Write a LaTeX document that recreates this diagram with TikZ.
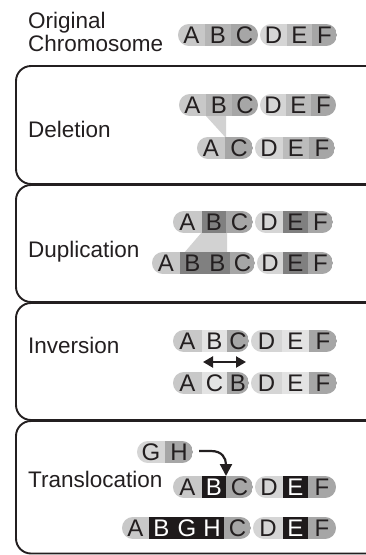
\documentclass[tikz,border=0pt]{standalone}
\usepackage{fontspec}
\setmainfont{Liberation Sans}
\usetikzlibrary{arrows.meta}
\definecolor{ink}{HTML}{231F20}
\definecolor{gA}{HTML}{C8C8C8}
\definecolor{gB}{HTML}{B5B5B5}
\definecolor{gC}{HTML}{A6A6A6}
\definecolor{gD}{HTML}{D5D5D5}
\definecolor{gE}{HTML}{BCBCBC}
\definecolor{gF}{HTML}{A6A6A6}
\definecolor{gDark}{HTML}{808080}
\definecolor{gLight}{HTML}{E3E3E3}
\definecolor{gBlack}{HTML}{1E1A1B}
\definecolor{gWedge}{HTML}{D2D2D2}
\newcommand\segm[7]{%
  \fill[#5] (#2,{#4-11}) rectangle (#3,{#4+11});
  \node[lett,text=#6] (#1) at ({(#2+#3)/2},{#4+8.5}) {#7};}
\newcommand\pillclip[3]{\clip[rounded corners=10.9pt] (#1,{#3-11}) rectangle (#2,{#3+11});}
\tikzset{
  lett/.style={inner sep=0pt, anchor=base, font=\fontsize{24}{26}\selectfont},
  lbl/.style={inner sep=0pt, anchor=base west, text=ink, font=\fontsize{22.5}{23}\selectfont},
  frame/.style={draw=ink, line width=1.9pt, rounded corners=15pt},
}
\begin{document}
\begin{tikzpicture}[x=1pt,y=-1pt]
\useasboundingbox (0,0) rectangle (366,555);
% frames
\draw[frame] (366,66) -- (16,66) -- (16,184) -- (366,184);
\draw[frame] (366,185) -- (16,185) -- (16,302) -- (366,302);
\draw[frame] (366,303) -- (16,303) -- (16,420) -- (366,420);
\draw[frame] (366,421) -- (16,421) -- (16,553.5) -- (366,553.5);
% labels
\node[inner sep=0pt, anchor=north west, align=left, text=ink, font=\fontsize{22.5}{22.5}\selectfont] (lorig) at (28,12) {Original\\Chromosome};
\node[lbl] (ldel) at (28,137) {Deletion};
\node[lbl] (ldup) at (28,257) {Duplication};
\node[lbl] (linv) at (28,353) {Inversion};
\node[lbl] (ltra) at (28,487) {Translocation};
% ---------- Original ----------
\begin{scope}\pillclip{178}{258}{35}
\segm{oA}{178}{205}{35}{gA}{ink}{A}
\segm{oB}{205}{231}{35}{gB}{ink}{B}
\segm{oC}{231}{258}{35}{gC}{ink}{C}
\end{scope}
\begin{scope}\pillclip{260}{337}{35}
\segm{oD}{260}{287}{35}{gD}{ink}{D}
\segm{oE}{287}{312}{35}{gE}{ink}{E}
\segm{oF}{312}{337}{35}{gF}{ink}{F}
\end{scope}
% ---------- Deletion ----------
\fill[gWedge] (206,116) -- (226,116) -- (226,138) -- cycle;
\begin{scope}\pillclip{179}{258}{105}
\segm{dA}{179}{206}{105}{gA}{ink}{A}
\segm{dB}{206}{232}{105}{gB}{ink}{B}
\segm{dC}{232}{258}{105}{gC}{ink}{C}
\end{scope}
\begin{scope}\pillclip{260}{336}{105}
\segm{dD}{260}{286}{105}{gD}{ink}{D}
\segm{dE}{286}{311}{105}{gE}{ink}{E}
\segm{dF}{311}{336}{105}{gF}{ink}{F}
\end{scope}
\begin{scope}\pillclip{197}{253}{148}
\segm{d2A}{197}{225}{148}{gA}{ink}{A}
\segm{d2C}{225}{253}{148}{gC}{ink}{C}
\end{scope}
\begin{scope}\pillclip{255}{335}{148}
\segm{d2D}{255}{283}{148}{gD}{ink}{D}
\segm{d2E}{283}{309}{148}{gE}{ink}{E}
\segm{d2F}{309}{335}{148}{gF}{ink}{F}
\end{scope}
% ---------- Duplication ----------
\fill[gWedge] (202,232) -- (227,232) -- (227,253) -- (184,253) -- cycle;
\begin{scope}\pillclip{173}{253}{222}
\segm{uA}{173}{202}{222}{gA}{ink}{A}
\segm{uB}{202}{226}{222}{gDark}{ink}{B}
\segm{uC}{226}{253}{222}{gC}{ink}{C}
\end{scope}
\begin{scope}\pillclip{255}{333}{222}
\segm{uD}{255}{283}{222}{gD}{ink}{D}
\segm{uE}{283}{308}{222}{gDark}{ink}{E}
\segm{uF}{308}{333}{222}{gF}{ink}{F}
\end{scope}
\begin{scope}\pillclip{152}{255}{263}
\segm{u2A}{152}{180}{263}{gA}{ink}{A}
\segm{u2B}{180}{205}{263}{gDark}{ink}{B}
\segm{u2Bb}{205}{230}{263}{gDark}{ink}{B}
\segm{u2C}{230}{255}{263}{gC}{ink}{C}
\end{scope}
\begin{scope}\pillclip{257}{333}{263}
\segm{u2D}{257}{283}{263}{gD}{ink}{D}
\segm{u2E}{283}{308}{263}{gDark}{ink}{E}
\segm{u2F}{308}{333}{263}{gF}{ink}{F}
\end{scope}
% ---------- Inversion ----------
\begin{scope}\pillclip{173}{249}{341}
\segm{iA}{173}{202}{341}{gA}{ink}{A}
\segm{iB}{202}{227}{341}{gLight}{ink}{B}
\segm{iC}{227}{249}{341}{gC}{ink}{C}
\end{scope}
\begin{scope}\pillclip{251}{337}{341}
\segm{iD}{251}{282}{341}{gD}{ink}{D}
\segm{iE}{282}{309}{341}{gLight}{ink}{E}
\segm{iF}{309}{337}{341}{gF}{ink}{F}
\end{scope}
\coordinate (ia) at (203,362);
\coordinate (ib) at (246,362);
\draw[{Triangle[length=10pt,width=11pt]}-{Triangle[length=10pt,width=11pt]}, line width=2.2pt, ink] (ia) -- (ib);
\begin{scope}\pillclip{173}{249}{383}
\segm{i2A}{173}{202}{383}{gA}{ink}{A}
\segm{i2C}{202}{227}{383}{gLight}{ink}{C}
\segm{i2B}{227}{249}{383}{gC}{ink}{B}
\end{scope}
\begin{scope}\pillclip{251}{337}{383}
\segm{i2D}{251}{282}{383}{gD}{ink}{D}
\segm{i2E}{282}{309}{383}{gLight}{ink}{E}
\segm{i2F}{309}{337}{383}{gF}{ink}{F}
\end{scope}
% ---------- Translocation ----------
\begin{scope}\pillclip{137}{193}{452}
\segm{tG}{137}{165}{452}{gD}{ink}{G}
\segm{tH}{165}{193}{452}{gC}{ink}{H}
\end{scope}
\coordinate (ts) at (199,451);
\coordinate (tm) at (211,451);
\coordinate (te) at (226,476);
\draw[-{Triangle[length=12pt,width=12pt]}, line width=2.2pt, ink] (ts) -- (tm) .. controls (222,451) and (226,458) .. (te);
\begin{scope}\pillclip{173}{253}{487}
\segm{tA}{173}{202}{487}{gA}{ink}{A}
\segm{tB}{202}{226}{487}{gBlack}{white}{B}
\segm{tC}{226}{253}{487}{gC}{ink}{C}
\end{scope}
\begin{scope}\pillclip{255}{336}{487}
\segm{tD}{255}{283}{487}{gD}{ink}{D}
\segm{tE}{283}{308}{487}{gBlack}{white}{E}
\segm{tF}{308}{336}{487}{gF}{ink}{F}
\end{scope}
\begin{scope}\pillclip{122}{251}{528}
\segm{t2A}{122}{149}{528}{gA}{ink}{A}
\segm{t2B}{149}{174}{528}{gBlack}{white}{B}
\segm{t2G}{174}{200}{528}{gBlack}{white}{G}
\segm{t2H}{200}{224}{528}{gBlack}{white}{H}
\segm{t2C}{224}{251}{528}{gC}{ink}{C}
\end{scope}
\begin{scope}\pillclip{253}{336}{528}
\segm{t2D}{253}{283}{528}{gD}{ink}{D}
\segm{t2E}{283}{308}{528}{gBlack}{white}{E}
\segm{t2F}{308}{336}{528}{gF}{ink}{F}
\end{scope}
\end{tikzpicture}
\end{document}
